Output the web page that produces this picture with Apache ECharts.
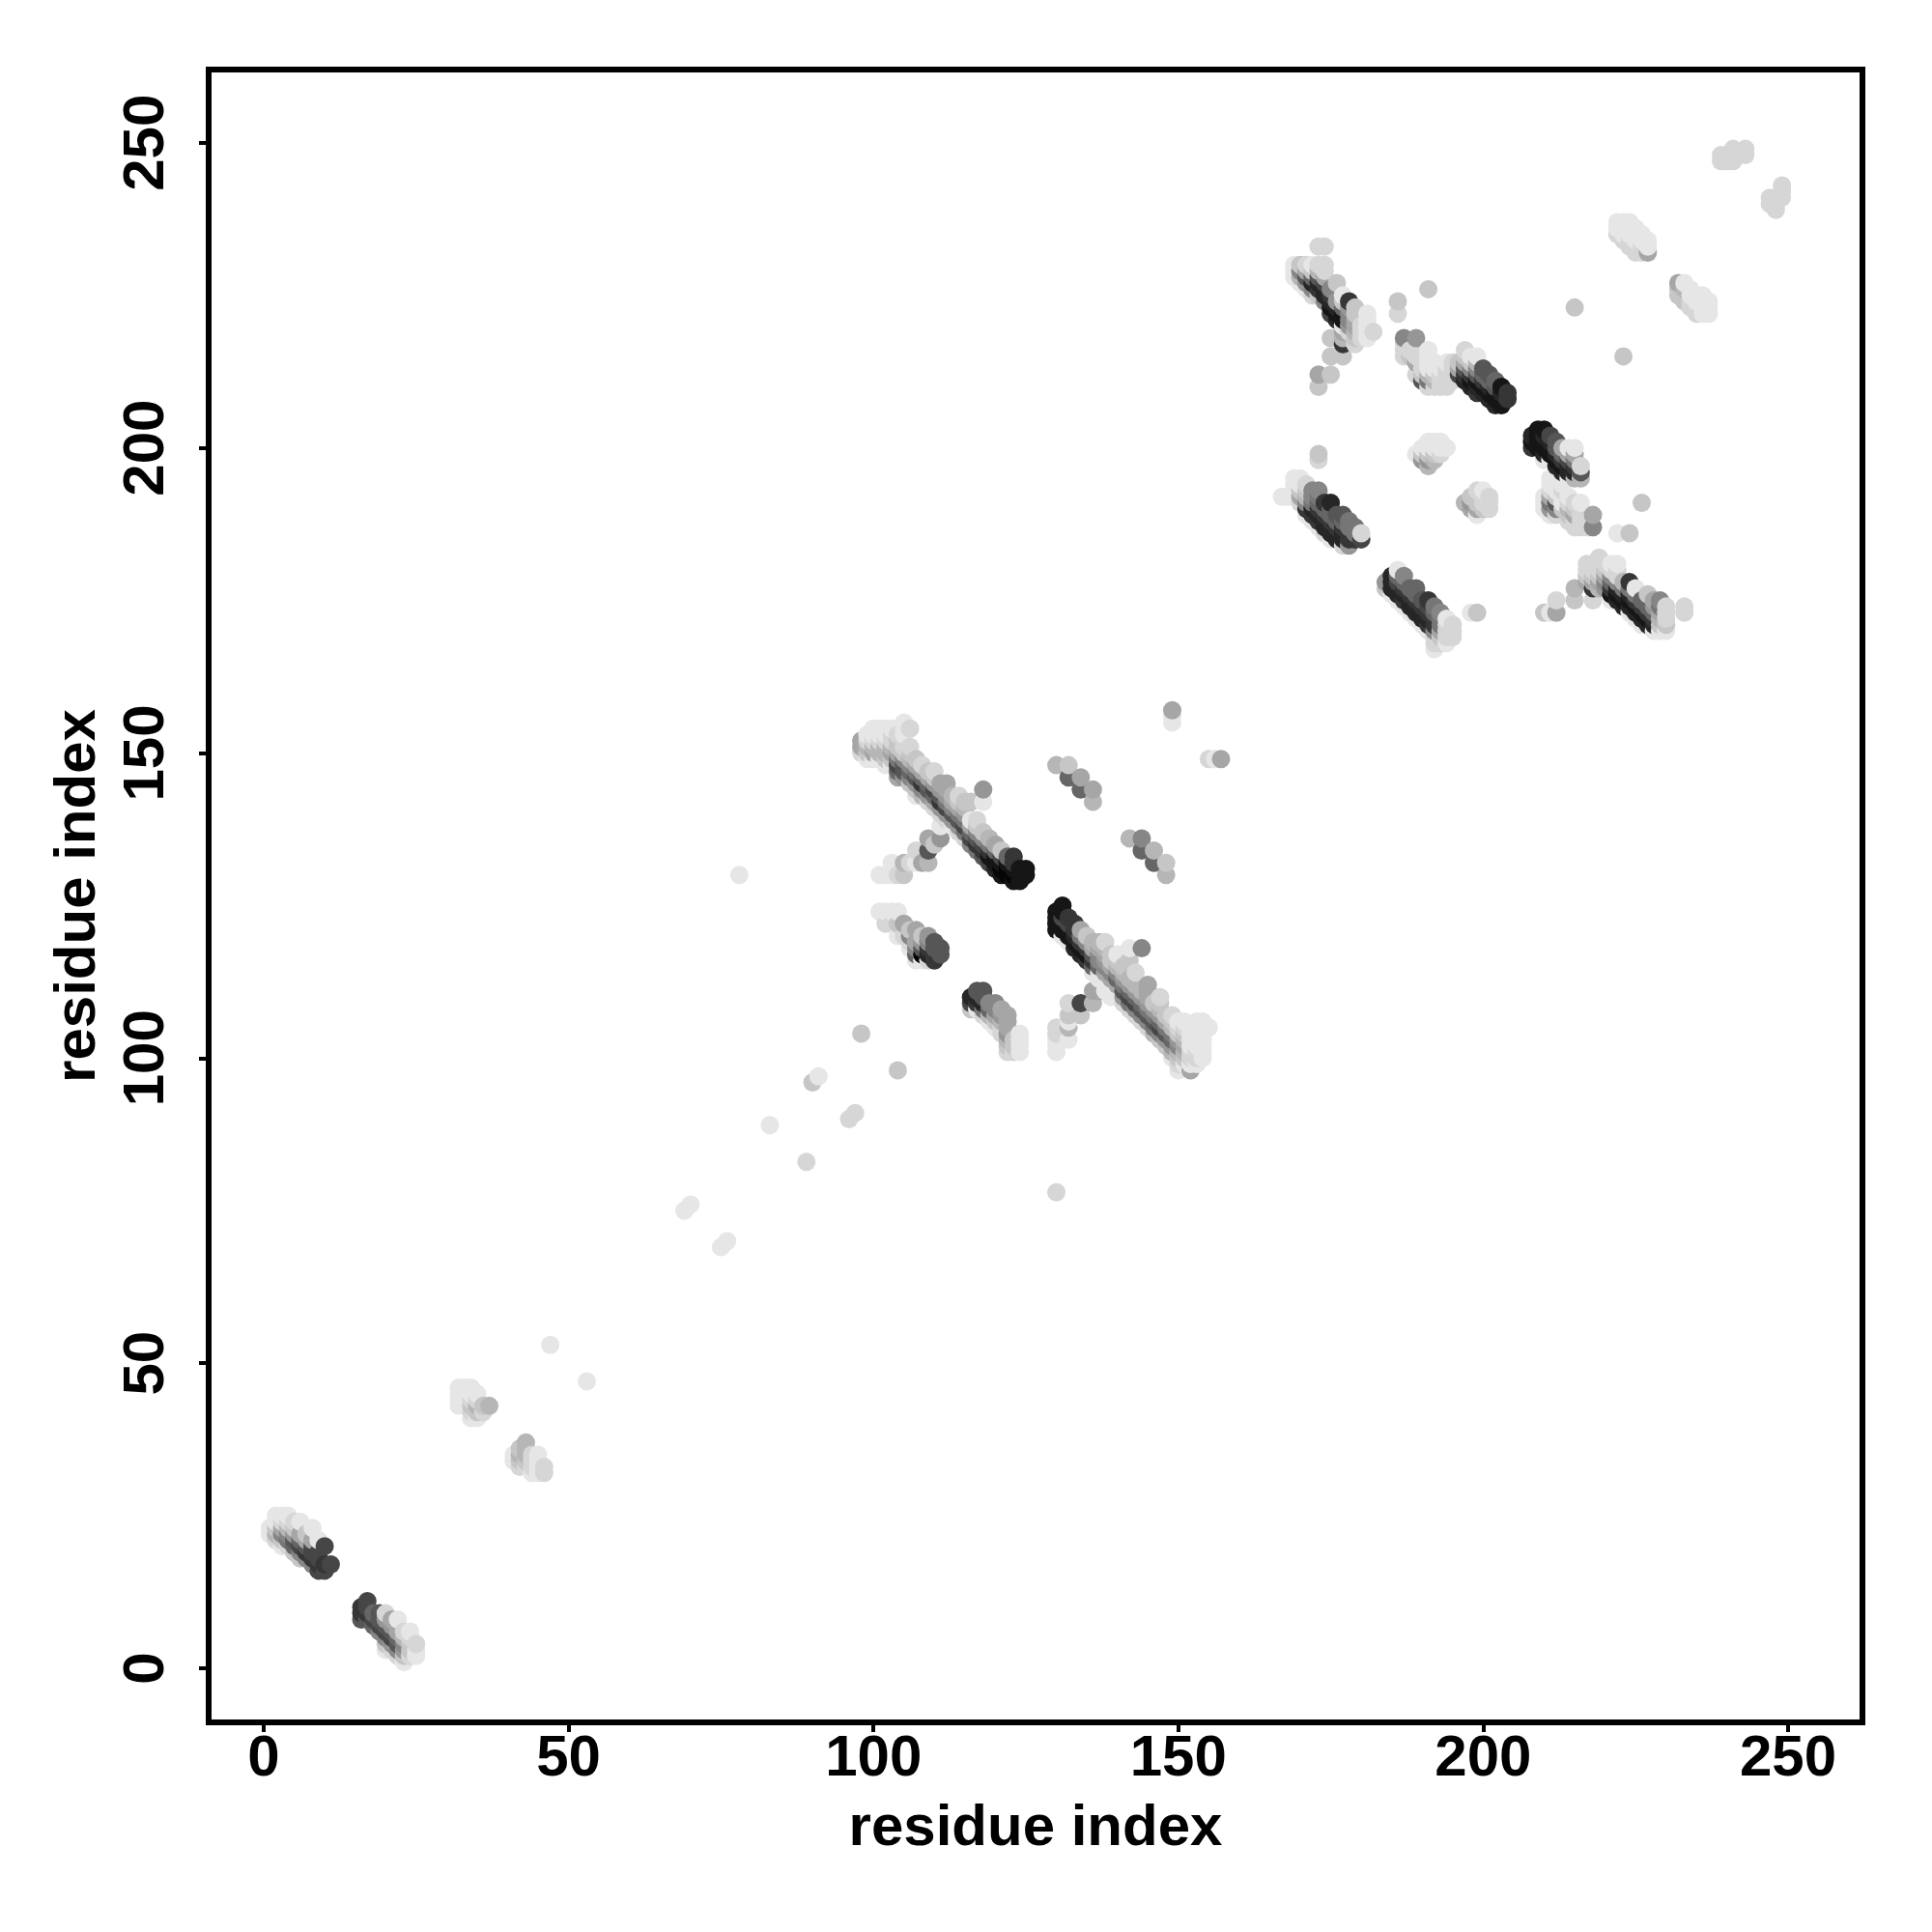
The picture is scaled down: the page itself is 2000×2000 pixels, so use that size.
<!DOCTYPE html>
<html><head><meta charset="utf-8">
<style>html,body{margin:0;background:#fff}#c{width:2000px;height:2000px}</style>
<script src="https://cdn.jsdelivr.net/npm/echarts@6/dist/echarts.min.js"></script>
</head><body><div id="c"></div>
<script>
// each row: [residue x, first residue y, strength per consecutive y]; hex digit = grey level / 16, "." = no contact
const tickValues = [0, 50, 100, 150, 200, 250];
const axisTitle = "residue index";
const hairpinA = [[1,22,"ee"],[2,21,"dbcee"],[3,20,"ec8ade"],[4,20,"d78bde"],[5,19,"c659cd"],[6,18,"c846a.e"],[7,18,"835ac"],[8,17,"8344a.e"],[9,16,"4344.e"],[10,16,"43..4"],[11,17,"4"]];
const hairpinB = [[16,8,"533"],[17,8,"5344"],[18,7,"646"],[19,6,"8455"],[20,3,"ec8459d"],[21,3,"d9459a"],[22,2,"d856a.e"],[23,1,"ec98bd"],[24,2,"dccde"],[25,2,"eed"]];
const clusterC = [[32,43,"eeee"],[33,43,"eeee"],[34,41,"edcdee"],[35,41,"ecbde"],[36,42,"dc"],[37,43,"b"]];
const clusterD = [[41,34,"ee"],[42,33,"dcbc"],[43,33,"dcbbb"],[44,32,"eddd"],[45,32,"eeee"],[46,32,"dd"]];
const singles = [[47,53,"e"],[53,47,"e"],[69,75,"e"],[70,76,"e"],[75,69,"e"],[76,70,"e"],[78,130,"e"],[83,89,"e"],[89,83,"d"],[90,96,"c"],[91,97,"e"],[96,90,"d"],[97,91,"d"],[98,104,"c"],[104,98,"c"],[130,78,"d"],[215,223,"c"],[223,215,"c"],[226,191,"c"],[173,198,"dc"],[186,222,"d.c"],[191,226,"c"],[198,173,"e"],[199,173,"c"]];
const strandE = [[98,150,"daa"],[99,149,"ecbde"],[100,149,"eabdee"],[101,149,"ebbdee"],[102,148,"ecbbdee"],[103,148,"ecabdde"],[104,146,"a647accd"],[105,146,"9558cd.eee"],[106,145,"c868bcd..d"],[107,143,"ec957ac"],[108,143,"b836ad"],[109,142,"d956ac"],[110,141,"da649cd"],[111,140,"d9359a"],[112,139,"d9479aa"],[113,138,"e958ab"],[114,137,"d957acd"],[115,136,"d7479bc"],[116,135,"846ae..c"],[117,134,"7358cd"],[118,133,"5348c....e.9"],[119,132,"4137b"],[120,131,"2116a"],[121,130,"1014c"],[122,130,"0016"],[123,129,"10133"],[124,129,"111"],[125,130,"11"]];
const branchE = [[101,130,"e"],[102,130,"e"],[103,130,"e.e"],[104,130,"d"],[105,130,"c.b"],[106,132,"d"],[107,132,"e.d"],[108,132,"a"],[109,132,"b.5.a"],[110,135,"c"],[111,136,"9.e"]];
const clusterF = [[101,124,"e"],[102,122,"d.e"],[103,122,"d.e"],[104,120,"e.c.e"],[105,120,"d.a"],[106,118,"ed8c"],[107,116,"e68a.a"],[108,116,"e059c"],[109,116,"d2389"],[110,116,"3355"],[111,117,"55"]];
const clusterG = [[116,108,"c42"],[117,108,"e325"],[118,107,"d7255"],[119,106,"eb68"],[120,105,"eca88"],[121,104,"ddb9a"],[122,101,"dcb9aaa"],[123,101,"dcc"],[124,101,"eeee"]];
const clusterH = [[130,148,"b"],[132,146,"6.c"],[134,144,"6.a"],[136,142,"b.a"],[142,136,"b"],[144,134,"6.8"],[146,132,"6.b"],[148,130,"b.c"],[149,155,"eea"],[155,149,"d"],[156,149,"e"],[157,149,"a"]];
const strandK = [[130,121,"1111"],[131,120,"e11411"],[132,119,"e1143"],[133,118,"21233"],[134,117,"2137a"],[135,116,"3138c"],[136,115,"635ab"],[137,114,"e688ab"],[138,113,"ea89abd"],[139,112,"ea8acc"],[140,111,"ea68bce"],[141,109,"d9579bc"],[142,108,"d7469b..c.e"],[143,107,"d8469b.d"],[144,106,"d8569b......8"],[145,105,"d8579aaa"],[146,104,"b7579c"],[147,103,"c8469bcd"],[148,102,"c957ac"],[149,100,"eb967bcd"],[150,98,"edcb89cde"],[151,99,"ecbabcde"],[152,98,"aeddeeee"],[153,99,"eddeeeee"],[154,100,"eeeeeee"],[155,105,"e"]];
const branchK = [[130,101,"eeedd"],[132,103,"e.bec.d"],[134,107,"c.4"],[136,109,"b.a..e"],[137,111,"a.e"],[138,111,"e"],[139,110,"e"]];
const strandL = [[169,228,"eee"],[170,227,"eb8c"],[171,226,"e95ad"],[172,225,"d826ce"],[173,225,"c325bd..d"],[174,224,"8224add..d"],[175,212,"c..c..c...41238"],[176,221,"2129..c"],[177,215,"c.3bae116ce"],[178,219,"d98893"],[179,217,"dcbaacc"],[180,218,"ddd"],[181,218,"eeeee"],[182,219,"d"],[173,210,"c.a"]];
const clusterM = [[187,215,"ddd8"],[188,215,"cd"],[189,212,"d.add.9"],[190,211,"5cd"],[191,210,"d7beeee"],[192,210,"dbcee"],[193,210,"ddde"],[194,210,"dddde"],[195,211,"d.dd"]];
const strandN = [[196,212,"4ac"],[197,211,"235acd"],[198,210,"2138ce"],[199,209,"32158be"],[200,209,"21365"],[201,208,"21265"],[202,207,"21156"],[203,207,"1121"],[204,208,"33"]];
const strandP = [[167,192,"e"],[168,192,"e"],[169,192,"eeee"],[170,191,"dacee"],[171,189,"e38bcd"],[172,188,"e32788"],[173,187,"e323678"],[174,186,"d22363"],[175,185,"e223662"],[176,185,"22365"],[177,184,"d22365"],[178,184,"93377"],[179,185,"377"],[180,185,"4d"]];
const strandQ = [[184,177,"c9"],[185,176,"e222"],[186,175,"e2246e"],[187,174,"e32368"],[188,173,"e2236"],[189,172,"e22366"],[190,171,"e2235"],[191,170,"e32343"],[192,167,"edd83367"],[193,168,"dca778"],[194,168,"eddde"],[195,169,"ddd"]];
const clusterR = [[189,199,"e"],[190,198,"9ce"],[191,197,"b9cee"],[192,198,"bcee"],[193,199,"dee"],[194,200,"e"]];
const clusterS = [[197,191,"b"],[198,190,"a9c"],[199,189,"eaccd"],[200,190,"cdde"],[201,190,"ddd"]];
const strandT = [[208,200,"312"],[209,200,"1111"],[210,198,"e21121"],[211,198,"e1124"],[212,196,"e21255"],[213,196,"2136a"],[214,195,"e224ae"],[215,195,"b237ae"],[216,195,"b5d"]];
const clusterT = [[210,190,"eee"],[211,189,"e97adee"],[212,189,"d85ce"],[213,190,"ceede"],[214,188,"dcbde"],[215,187,"ddacd"],[216,187,"dddde"],[217,187,"dd"],[218,187,"8.a"],[222,186,"e"],[224,186,"c"]];
const strandV = [[210,173,"c"],[211,173,"e"],[212,173,"a.d"],[215,175,"c.b"],[217,178,"acdd"],[218,175,"d.3acd"],[219,177,"bacddd"],[220,177,"98acd"],[221,175,"e1368de"],[222,175,"2128dde"],[223,174,"2127b"],[224,173,"e21273"],[225,172,"e2137e"],[226,171,"e2136"],[227,171,"21366c"],[228,170,"e2369a"],[229,170,"ecba78"],[230,170,"ecddd"],[233,173,"dd"]];
const clusterU = [[222,235,"dee"],[223,234,"deee"],[224,233,"ddeee"],[225,232,"ddeee"],[226,232,"ddee"],[227,232,"aee"],[232,225,"cca"],[233,224,"ccbe"],[234,223,"ddee"],[235,222,"ddee"],[236,222,"eeee"],[237,222,"eee"],[239,247,"dd"],[240,247,"dd"],[241,247,"ddd"],[242,248,"d"],[243,248,"dd"],[247,240,"dd"],[248,239,"ddd"],[249,241,"ddd"]];

const allRows = [hairpinA,hairpinB,clusterC,clusterD,singles,strandE,branchE,clusterF,clusterG,clusterH,strandK,branchK,strandL,clusterM,strandN,strandP,strandQ,clusterR,clusterS,strandT,clusterT,strandV,clusterU].flat();
const points = [];
allRows.forEach(([x, y0, levels]) => {
  [...levels].forEach((ch, k) => {
    if (ch === '.') return;
    points.push([x, y0 + k, parseInt(ch, 16) * 16 + 6]);
  });
});
points.sort((a, b) => a[0] - b[0] || a[1] - b[1]);

const font = '"Liberation Sans"';
const axisBase = (min, max, nameGap, rotate, margin) => ({
  type: 'value', min, max,
  name: axisTitle, nameLocation: 'middle', nameGap,
  nameTextStyle: {fontFamily: font, fontWeight: 'bold', fontSize: 60, color: '#000'},
  splitLine: {show: false},
  axisLine: {show: false, onZero: false},
  axisTick: {show: true, customValues: tickValues, length: 10, lineStyle: {color: '#000', width: 4}},
  axisLabel: {show: true, customValues: tickValues, rotate, margin, fontFamily: font, fontWeight: 'bold', fontSize: 60, color: '#000', formatter: v => String(v)}
});
const chart = echarts.init(document.getElementById('c'), null, {renderer: 'canvas'});
chart.setOption({
  animation: false,
  backgroundColor: '#fff',
  grid: {left: 216, top: 72, width: 1712, height: 1711, show: true, borderColor: '#000', borderWidth: 6, backgroundColor: 'transparent', containLabel: false},
  xAxis: axisBase(-9.03, 262.2, 80, 0, 8),
  yAxis: axisBase(-8.87, 262, 105, 90, 34),
  series: [{
    type: 'scatter', symbol: 'circle', symbolSize: 19, data: points, large: false, progressive: 0,
    itemStyle: {opacity: 1, color: p => { const g = p.value[2]; return `rgb(${g},${g},${g})`; }},
    emphasis: {disabled: true}
  }]
});
</script></body></html>
